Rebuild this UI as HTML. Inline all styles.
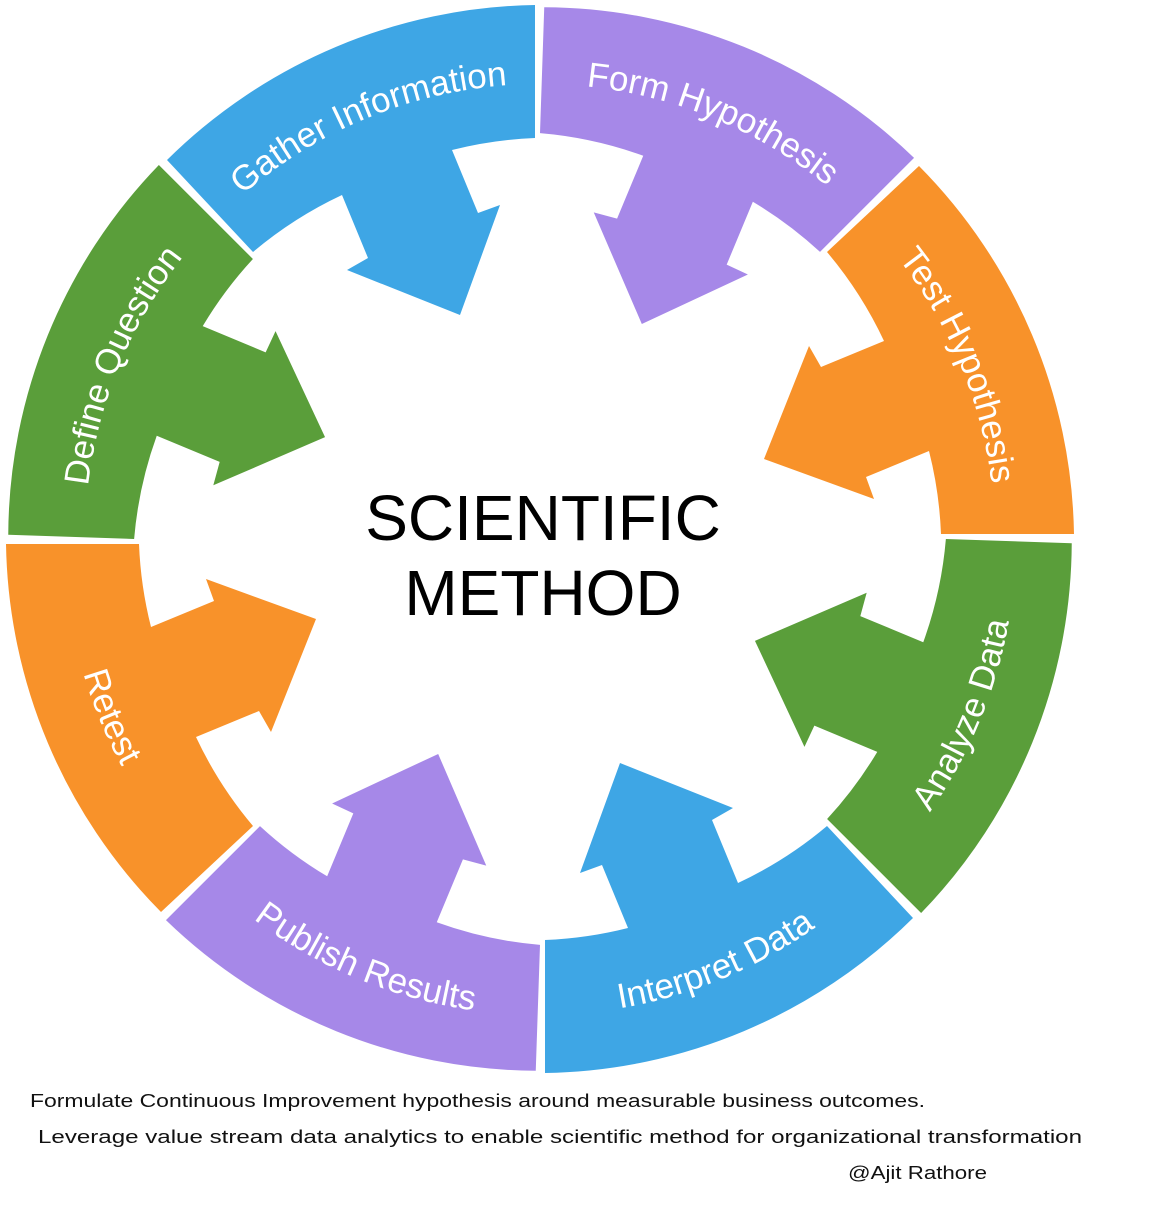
<!DOCTYPE html>
<html><head><meta charset="utf-8"><style>
html,body{margin:0;padding:0;background:#fff;}
svg{display:block;}
</style></head><body>
<svg width="1169" height="1211" viewBox="0 0 1169 1211" xmlns="http://www.w3.org/2000/svg">
<defs>
<path id="seg" d="M535,5 A535 535 0 0 0 167,160 L253,252 A402 402 0 0 1 342,195 L368,258 L347,270 L460,315 L500,205 L478,213 L452,150 A402 402 0 0 1 535,138 Z"/>
<path id="pDef" d="M85,539 A455 455 0 0 1 218.3,217.3"/>
<path id="pGat" d="M218.3,217.3 A455 455 0 0 1 540,84"/>
<path id="pFor" d="M540,84 A455 455 0 0 1 861.7,217.3"/>
<path id="pTes" d="M861.7,217.3 A455 455 0 0 1 995,539"/>
<path id="pAna" d="M876.6,875.6 A476 476 0 0 0 1016,539"/>
<path id="pInt" d="M540,1015 A476 476 0 0 0 876.6,875.6"/>
<path id="pPub" d="M203.4,875.6 A476 476 0 0 0 540,1015"/>
<path id="pRet" d="M64,539 A476 476 0 0 0 203.4,875.6"/>
</defs>
<use href="#seg" fill="#3EA6E5" transform="rotate(0 540 539)"/>
<use href="#seg" fill="#A688E8" transform="rotate(45 540 539)"/>
<use href="#seg" fill="#F8922A" transform="rotate(90 540 539)"/>
<use href="#seg" fill="#5A9E3A" transform="rotate(135 540 539)"/>
<use href="#seg" fill="#3EA6E5" transform="rotate(180 540 539)"/>
<use href="#seg" fill="#A688E8" transform="rotate(225 540 539)"/>
<use href="#seg" fill="#F8922A" transform="rotate(270 540 539)"/>
<use href="#seg" fill="#5A9E3A" transform="rotate(315 540 539)"/>
<g font-family="Liberation Sans, sans-serif" font-size="35" fill="#fff" text-anchor="middle">
<text><textPath href="#pDef" startOffset="50%">Define Question</textPath></text>
<text><textPath href="#pGat" startOffset="50%">Gather Information</textPath></text>
<text><textPath href="#pFor" startOffset="50%">Form Hypothesis</textPath></text>
<text><textPath href="#pTes" startOffset="50%">Test Hypothesis</textPath></text>
<text><textPath href="#pAna" startOffset="50%">Analyze Data</textPath></text>
<text><textPath href="#pInt" startOffset="50%">Interpret Data</textPath></text>
<text><textPath href="#pPub" startOffset="50%">Publish Results</textPath></text>
<text><textPath href="#pRet" startOffset="50%">Retest</textPath></text>
</g>
<g font-family="Liberation Sans, sans-serif" font-size="64" fill="#000" text-anchor="middle">
<text x="543" y="540">SCIENTIFIC</text>
<text x="543" y="615">METHOD</text>
</g>
<g font-family="Liberation Sans, sans-serif" font-size="18" fill="#111">
<text x="30" y="1107" textLength="895" lengthAdjust="spacingAndGlyphs">Formulate Continuous Improvement hypothesis around measurable business outcomes.</text>
<text x="38" y="1143" textLength="1044" lengthAdjust="spacingAndGlyphs">Leverage value stream data analytics to enable scientific method for organizational transformation</text>
<text x="848" y="1179" textLength="139" lengthAdjust="spacingAndGlyphs">@Ajit Rathore</text>
</g>
</svg>
</body></html>
